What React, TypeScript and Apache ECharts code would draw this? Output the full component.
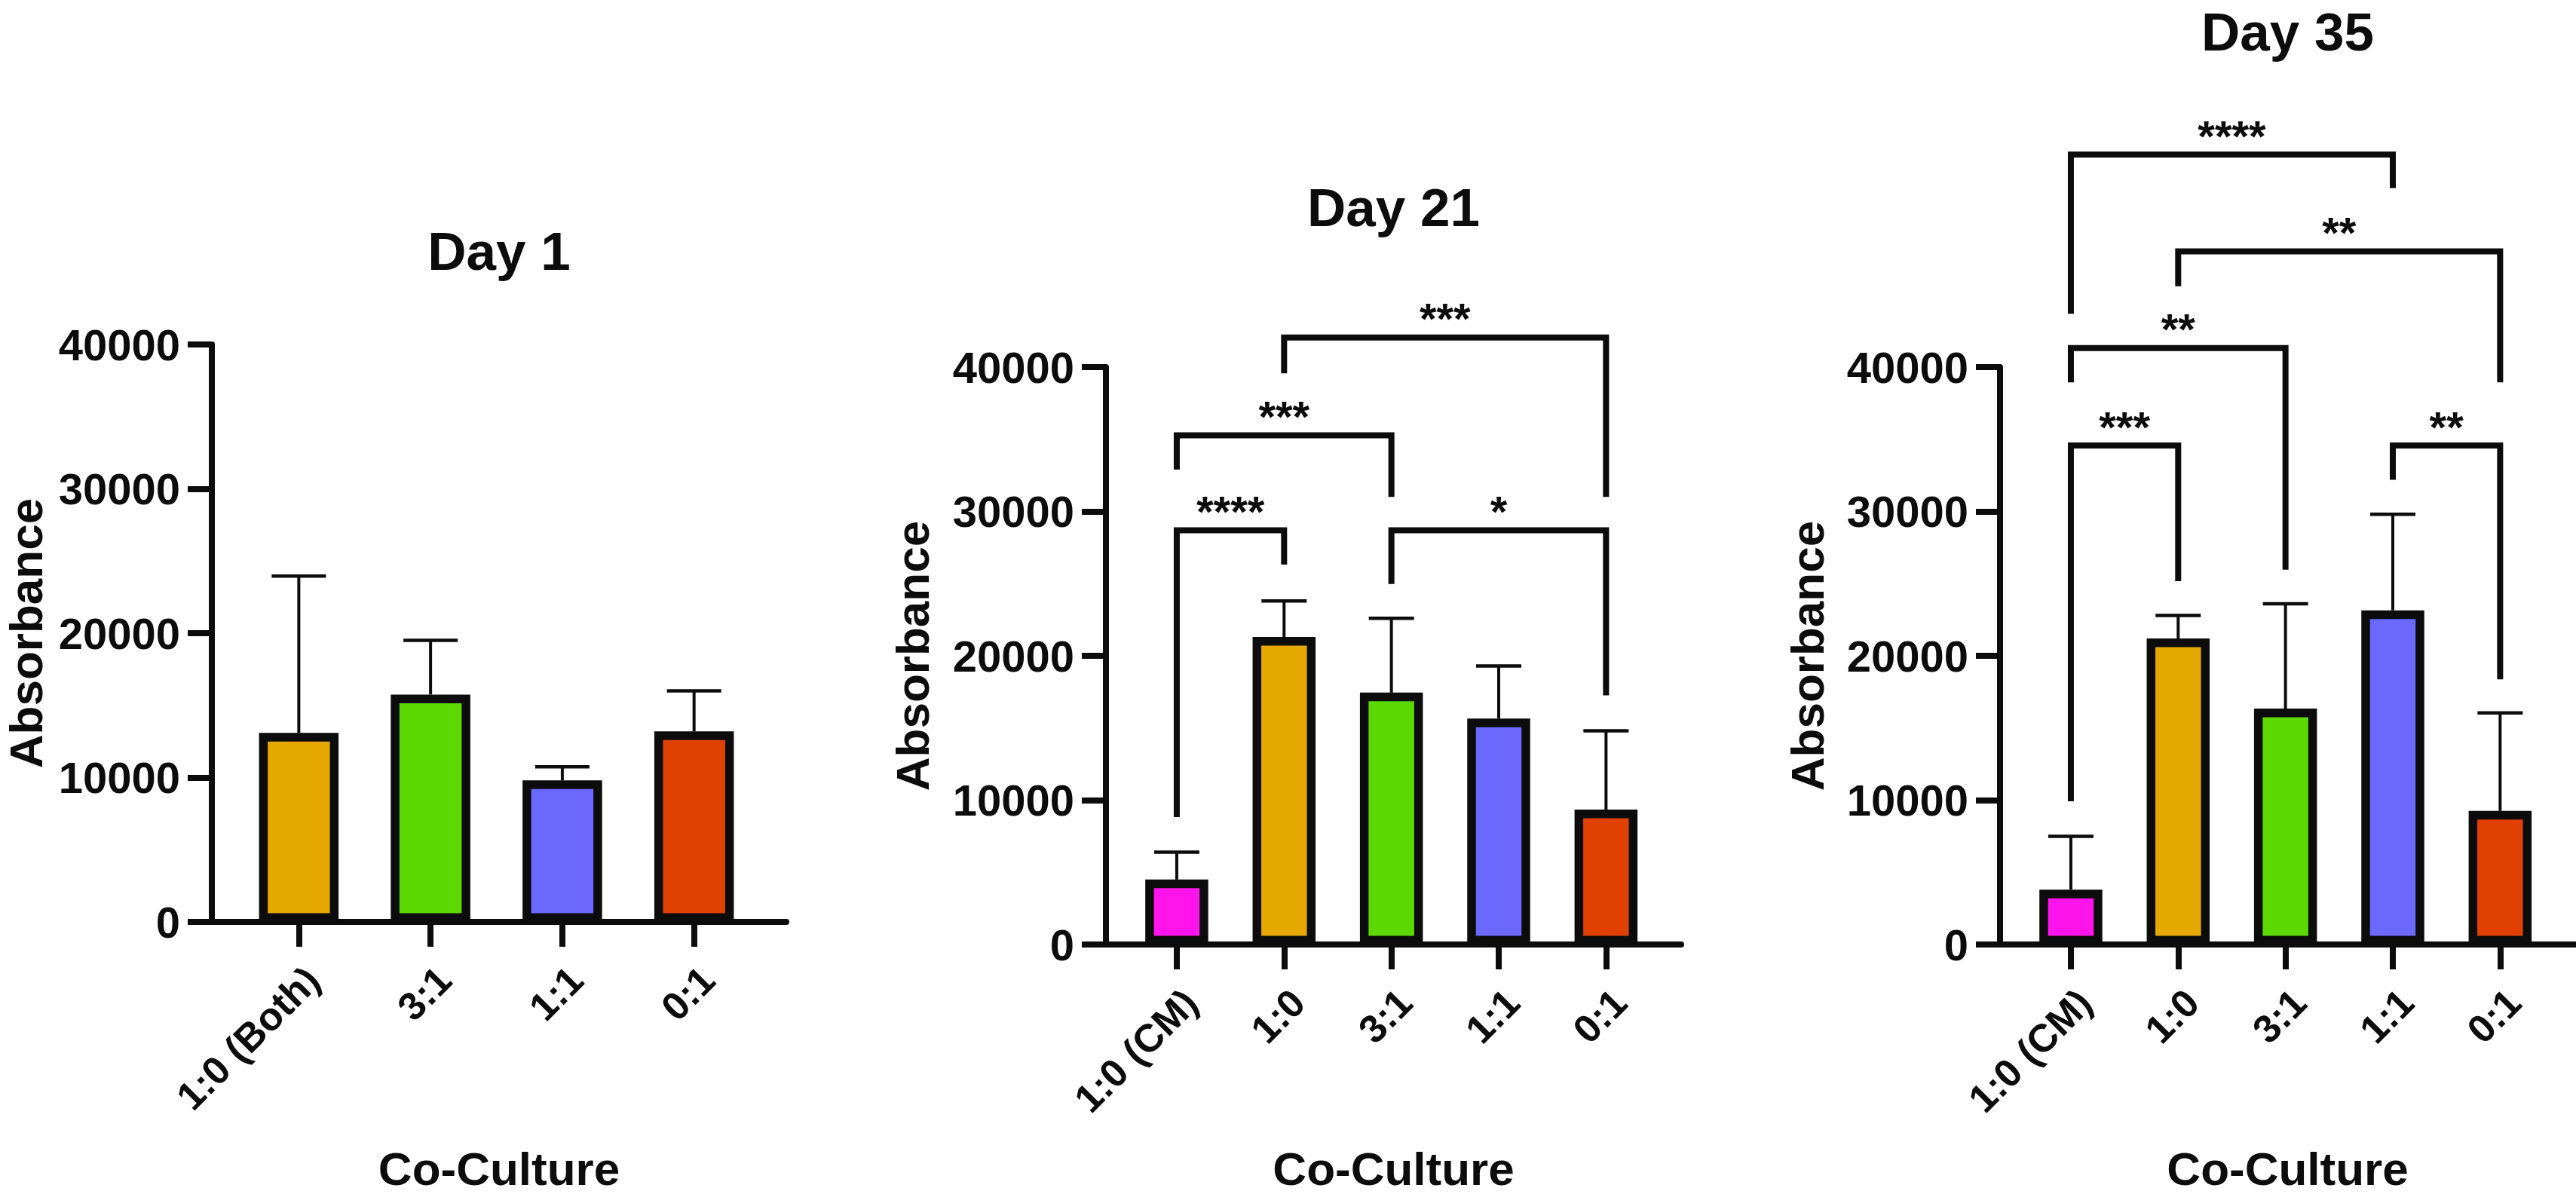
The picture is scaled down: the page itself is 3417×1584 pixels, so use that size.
import React, { useEffect, useRef } from "react";
import * as echarts from "echarts";

// ---------- data ----------
const CATS_D1 = ["1:0 (Both)", "3:1", "1:1", "0:1"];
const COLORS_D1 = ["#E5A800", "#5BD900", "#6B69FF", "#E04000"];
const MEAN_D1 = [13100, 15750, 9800, 13200];
const UPPER_D1 = [23950, 19500, 10750, 16000];

const CATS_D21 = ["1:0 (CM)", "1:0", "3:1", "1:1", "0:1"];
const COLORS_D21 = ["#FF14EB", "#E5A800", "#5BD900", "#6B69FF", "#E04000"];
const MEAN_D21 = [4500, 21300, 17450, 15650, 9350];
const UPPER_D21 = [6400, 23800, 22600, 19300, 14800];
// [fromIndex, toIndex, bracketLevel, legEndFrom, legEndTo]
const BRACKETS_D21 = [
  [0, 1, 28700, 8820, 26320],
  [0, 2, 35280, 32900, 31000],
  [2, 4, 28700, 24980, 17260],
  [1, 4, 42050, 39570, 31000],
];
const STARS_D21 = ["****", "***", "*", "***"];

const CATS_D35 = ["1:0 (CM)", "1:0", "3:1", "1:1", "0:1"];
const COLORS_D35 = ["#FF14EB", "#E5A800", "#5BD900", "#6B69FF", "#E04000"];
const MEAN_D35 = [3800, 21200, 16350, 23150, 9250];
const UPPER_D35 = [7500, 22800, 23600, 29800, 16050];
const BRACKETS_D35 = [
  [0, 1, 34565, 9920, 25172],
  [0, 2, 41319, 38945, 25963],
  [1, 4, 48021, 45594, 38945],
  [0, 3, 54723, 43694, 52401],
  [3, 4, 34565, 32190, 18364],
];
const STARS_D35 = ["***", "**", "**", "****", "**"];

const Y_MIN = 0;
const Y_MAX = 40000;
const Y_INTERVAL = 10000;

const TITLES = ["Day 1", "Day 21", "Day 35"];
const X_NAME = "Co-Culture";
const Y_NAME = "Absorbance";

// ---------- styling ----------
const INK = "#0b0c0b";
const FONT = "'Liberation Sans', Arial, Helvetica, sans-serif";

const PANELS = [
  { cats: CATS_D1, colors: COLORS_D1, mean: MEAN_D1, upper: UPPER_D1, brackets: [], stars: [],
    left: 281, top: 457, width: 762, height: 766, barWidth: 105.5, cap: 36, titleY: 333, yNameX: 34 },
  { cats: CATS_D21, colors: COLORS_D21, mean: MEAN_D21, upper: UPPER_D21, brackets: BRACKETS_D21, stars: STARS_D21,
    left: 1467, top: 487, width: 763, height: 766, barWidth: 83.5, cap: 30, titleY: 275, yNameX: 1210 },
  { cats: CATS_D35, colors: COLORS_D35, mean: MEAN_D35, upper: UPPER_D35, brackets: BRACKETS_D35, stars: STARS_D35,
    left: 2653, top: 487, width: 763, height: 766, barWidth: 83.5, cap: 30, titleY: 42, yNameX: 2397 },
];

export default function App() {
  const ref = useRef<HTMLDivElement>(null);

  useEffect(() => {
    if (!ref.current) return;
    const chart = echarts.init(ref.current, null, { renderer: "svg" });

    const grid: any[] = [];
    const xAxis: any[] = [];
    const yAxis: any[] = [];
    const series: any[] = [];
    const graphic: any[] = [];

    PANELS.forEach((p, gi) => {
      const n = p.cats.length;
      const idx = p.cats.map((_, i) => i);
      grid.push({ left: p.left, top: p.top, width: p.width, height: p.height, containLabel: false });
      xAxis.push({
        type: "value",
        gridIndex: gi,
        min: -0.66,
        max: n - 1 + 0.7,
        splitLine: { show: false },
        axisLine: { show: true, onZero: false, lineStyle: { color: INK, width: 8 } },
        axisTick: { show: true, customValues: idx, length: 33, lineStyle: { color: INK, width: 8 } },
        axisLabel: {
          show: true,
          customValues: idx,
          rotate: 45,
          verticalAlign: "top",
          margin: 50,
          formatter: (v: number) => p.cats[Math.round(v)] ?? "",
          fontFamily: FONT,
          fontWeight: "bold",
          fontSize: 52,
          color: INK,
        },
      });
      yAxis.push({
        type: "value",
        gridIndex: gi,
        min: Y_MIN,
        max: Y_MAX,
        interval: Y_INTERVAL,
        splitLine: { show: false },
        axisLine: { show: true, onZero: false, lineStyle: { color: INK, width: 8 } },
        axisTick: { show: true, length: 32, lineStyle: { color: INK, width: 8 } },
        axisLabel: {
          margin: 42,
          formatter: (v: number) => String(v),
          fontFamily: FONT,
          fontWeight: "bold",
          fontSize: 58,
          color: INK,
        },
      });

      series.push({
        type: "bar",
        xAxisIndex: gi,
        yAxisIndex: gi,
        barWidth: p.barWidth,
        data: p.mean.map((v, i) => ({
          value: [i, v],
          itemStyle: { color: p.colors[i], borderColor: INK, borderWidth: 11.5 },
        })),
        z: 2,
      });

      series.push({
        type: "custom",
        xAxisIndex: gi,
        yAxisIndex: gi,
        clip: false,
        z: 3,
        encode: { x: 0, y: [1, 2] },
        data: p.mean.map((v, i) => [i, v, p.upper[i]]),
        renderItem: (params: any, api: any) => {
          const x = api.value(0);
          const a = api.coord([x, api.value(1)]);
          const b = api.coord([x, api.value(2)]);
          return {
            type: "group",
            children: [
              { type: "line", shape: { x1: a[0], y1: a[1], x2: b[0], y2: b[1] }, style: { stroke: INK, lineWidth: 4 } },
              { type: "line", shape: { x1: b[0] - p.cap, y1: b[1], x2: b[0] + p.cap, y2: b[1] }, style: { stroke: INK, lineWidth: 4.5 } },
            ],
          };
        },
      });

      if (p.brackets.length) {
        series.push({
          type: "custom",
          xAxisIndex: gi,
          yAxisIndex: gi,
          clip: false,
          z: 4,
          encode: { x: [0, 1], y: [2, 3, 4] },
          data: p.brackets,
          renderItem: (params: any, api: any) => {
            const f = api.value(0);
            const t = api.value(1);
            const top1 = api.coord([f, api.value(2)]);
            const top2 = api.coord([t, api.value(2)]);
            const l1 = api.coord([f, api.value(3)]);
            const l2 = api.coord([t, api.value(4)]);
            return {
              type: "group",
              children: [
                {
                  type: "polyline",
                  shape: { points: [[l1[0], l1[1]], [top1[0], top1[1]], [top2[0], top2[1]], [l2[0], l2[1]]] },
                  style: { stroke: INK, lineWidth: 8, fill: null, lineJoin: "miter", lineCap: "butt" },
                },
                {
                  type: "text",
                  x: (top1[0] + top2[0]) / 2,
                  y: top1[1] - 25,
                  style: {
                    text: p.stars[params.dataIndex],
                    fontFamily: FONT,
                    fontWeight: "bold",
                    fontSize: 58,
                    fill: INK,
                    align: "center",
                    verticalAlign: "middle",
                  },
                },
              ],
            };
          },
        });
      }

      const cx = p.left + p.width / 2;
      graphic.push({
        type: "text",
        x: cx,
        y: p.titleY,
        style: { text: TITLES[gi], fontFamily: FONT, fontWeight: "bold", fontSize: 71, fill: INK, align: "center", verticalAlign: "middle" },
      });
      graphic.push({
        type: "text",
        x: cx,
        y: 1550,
        style: { text: X_NAME, fontFamily: FONT, fontWeight: "bold", fontSize: 62, fill: INK, align: "center", verticalAlign: "middle" },
      });
      graphic.push({
        type: "text",
        x: p.yNameX,
        y: p.top + p.height / 2,
        rotation: Math.PI / 2,
        style: { text: Y_NAME, fontFamily: FONT, fontWeight: "bold", fontSize: 62, fill: INK, align: "center", verticalAlign: "middle" },
      });
    });

    chart.setOption({
      animation: false,
      backgroundColor: "#ffffff",
      grid,
      xAxis,
      yAxis,
      series,
      graphic,
    });

    return () => chart.dispose();
  }, []);

  return (
    <div
      ref={ref}
      style={{ position: "absolute", left: 0, top: 0, width: 3417, height: 1584, background: "#fff" }}
    />
  );
}
